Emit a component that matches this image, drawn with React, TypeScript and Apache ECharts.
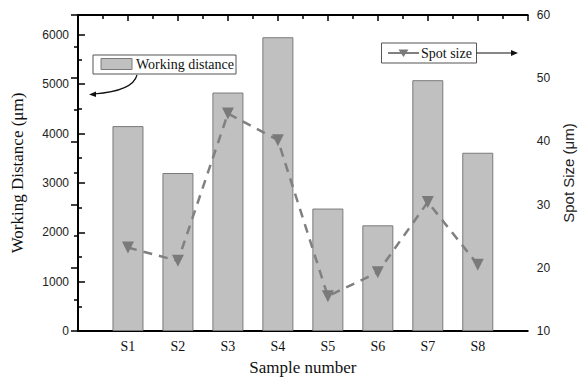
import React, { useEffect, useRef } from "react";
import * as echarts from "echarts";

const categories = ["S1", "S2", "S3", "S4", "S5", "S6", "S7", "S8"];
const workingDistance = [4150, 3200, 4830, 5950, 2480, 2140, 5080, 3610];
const spotSize = [23.2, 21.1, 44.4, 40.2, 15.5, 19.3, 30.4, 20.5];

const SERIF = "'Liberation Serif', 'Times New Roman', 'DejaVu Serif', serif";
const SANS = "'Liberation Sans', Arial, sans-serif";

export default function App() {
  const ref = useRef<HTMLDivElement>(null);
  useEffect(() => {
    if (!ref.current) return;
    const chart = echarts.init(ref.current, null, { renderer: "svg" });
    const barData = workingDistance.map((v, i) => [i + 1, v]);
    const lineData = spotSize.map((v, i) => [i + 1, v]);
    chart.setOption({
      animation: false,
      backgroundColor: "#ffffff",
      grid: { left: 78, right: 52, top: 15, bottom: 48 },
      xAxis: [
        {
          type: "value",
          position: "bottom",
          min: 0,
          max: 9,
          interval: 1,
          name: "Sample number",
          nameLocation: "middle",
          nameGap: 28,
          nameTextStyle: { fontFamily: SERIF, fontSize: 17, color: "#111" },
          axisLine: { show: true, lineStyle: { color: "#000", width: 2 } },
          axisTick: { show: false },
          splitLine: { show: false },
          axisLabel: {
            margin: 8,
            fontFamily: SERIF,
            fontSize: 14,
            color: "#111",
            formatter: (v: number) => categories[v - 1] ?? "",
          },
        },
        {
          type: "value",
          position: "top",
          min: 0,
          max: 9,
          interval: 1,
          axisLine: { show: true, lineStyle: { color: "#000", width: 2 } },
          axisTick: { show: true, inside: true, length: 6, lineStyle: { color: "#000", width: 1.5 } },
          minorTick: { show: true, splitNumber: 2, length: 4, lineStyle: { color: "#000", width: 1.5 } },
          axisLabel: { show: false },
          splitLine: { show: false },
        },
      ],
      yAxis: [
        {
          type: "value",
          position: "left",
          min: 0,
          max: 6400,
          interval: 1000,
          name: "Working Distance (\u03bcm)",
          nameLocation: "middle",
          nameGap: 52,
          nameTextStyle: { fontFamily: SERIF, fontSize: 17, color: "#111" },
          axisLine: { show: true, lineStyle: { color: "#000", width: 2 } },
          axisTick: { show: true, inside: true, length: 7, lineStyle: { color: "#000", width: 1.5 } },
          minorTick: { show: true, splitNumber: 2, length: 4, lineStyle: { color: "#000", width: 1.5 } },
          splitLine: { show: false },
          axisLabel: {
            margin: 9,
            fontFamily: SANS,
            fontSize: 12,
            color: "#222",
            showMaxLabel: false,
            formatter: (v: number) => (v % 1000 === 0 ? String(v) : ""),
          },
        },
        {
          type: "value",
          position: "right",
          min: 10,
          max: 60,
          interval: 10,
          name: "Spot Size (\u03bcm)",
          nameLocation: "middle",
          nameGap: 32,
          nameTextStyle: { fontFamily: SANS, fontSize: 15, color: "#222" },
          axisLine: { show: true, lineStyle: { color: "#000", width: 2 } },
          axisTick: { show: true, inside: true, length: 7, lineStyle: { color: "#000", width: 1.5 } },
          minorTick: { show: true, splitNumber: 2, length: 4, lineStyle: { color: "#000", width: 1.5 } },
          splitLine: { show: false },
          axisLabel: { margin: 9, fontFamily: SANS, fontSize: 12, color: "#222" },
        },
      ],
      series: [
        {
          type: "bar",
          name: "Working distance",
          xAxisIndex: 0,
          yAxisIndex: 0,
          barWidth: 31,
          data: barData,
          itemStyle: { color: "#c0c0c0", borderColor: "#7a7a7a", borderWidth: 1 },
          z: 2,
        },
        {
          type: "line",
          name: "Spot size",
          xAxisIndex: 0,
          yAxisIndex: 1,
          data: lineData,
          symbol: "triangle",
          symbolRotate: 180,
          symbolSize: 12,
          lineStyle: { color: "#808080", width: 2.5, type: [9, 7] },
          itemStyle: { color: "#7a7a7a" },
          z: 3,
        },
      ],
      graphic: [
        {
          type: "rect",
          shape: { x: 93, y: 55, width: 143, height: 19 },
          style: { fill: "#fff", stroke: "#555", lineWidth: 1 },
          z: 10,
        },
        {
          type: "rect",
          shape: { x: 101, y: 58.5, width: 31, height: 11 },
          style: { fill: "#c0c0c0", stroke: "#7a7a7a", lineWidth: 1 },
          z: 11,
        },
        {
          type: "text",
          x: 136,
          y: 64.5,
          style: { text: "Working distance", font: "14px " + SERIF, fill: "#111", verticalAlign: "middle" },
          z: 11,
        },
        {
          type: "bezierCurve",
          shape: { x1: 137, y1: 75, cpx1: 133, cpy1: 91, x2: 94, y2: 94 },
          style: { stroke: "#111", lineWidth: 1.2, fill: "none" },
          z: 10,
        },
        {
          type: "polygon",
          shape: { points: [[89, 94.5], [96, 91.5], [96, 97]] },
          style: { fill: "#111" },
          z: 10,
        },
        {
          type: "rect",
          shape: { x: 381.5, y: 43, width: 95, height: 20 },
          style: { fill: "#fff", stroke: "#555", lineWidth: 1 },
          z: 10,
        },
        {
          type: "line",
          shape: { x1: 388, y1: 53, x2: 419, y2: 53 },
          style: { stroke: "#808080", lineWidth: 2 },
          z: 11,
        },
        {
          type: "polygon",
          shape: { points: [[398.5, 49.5], [408.5, 49.5], [403.5, 57]] },
          style: { fill: "#7a7a7a" },
          z: 12,
        },
        {
          type: "text",
          x: 421,
          y: 53,
          style: { text: "Spot size", font: "14px " + SERIF, fill: "#111", verticalAlign: "middle" },
          z: 11,
        },
        {
          type: "line",
          shape: { x1: 476.5, y1: 53, x2: 513, y2: 53 },
          style: { stroke: "#111", lineWidth: 1.2 },
          z: 10,
        },
        {
          type: "polygon",
          shape: { points: [[518, 53], [511, 50], [511, 56]] },
          style: { fill: "#111" },
          z: 10,
        },
      ],
    });
    return () => chart.dispose();
  }, []);
  return <div ref={ref} style={{ width: 584, height: 381, position: "fixed", left: 0, top: 0 }} />;
}
